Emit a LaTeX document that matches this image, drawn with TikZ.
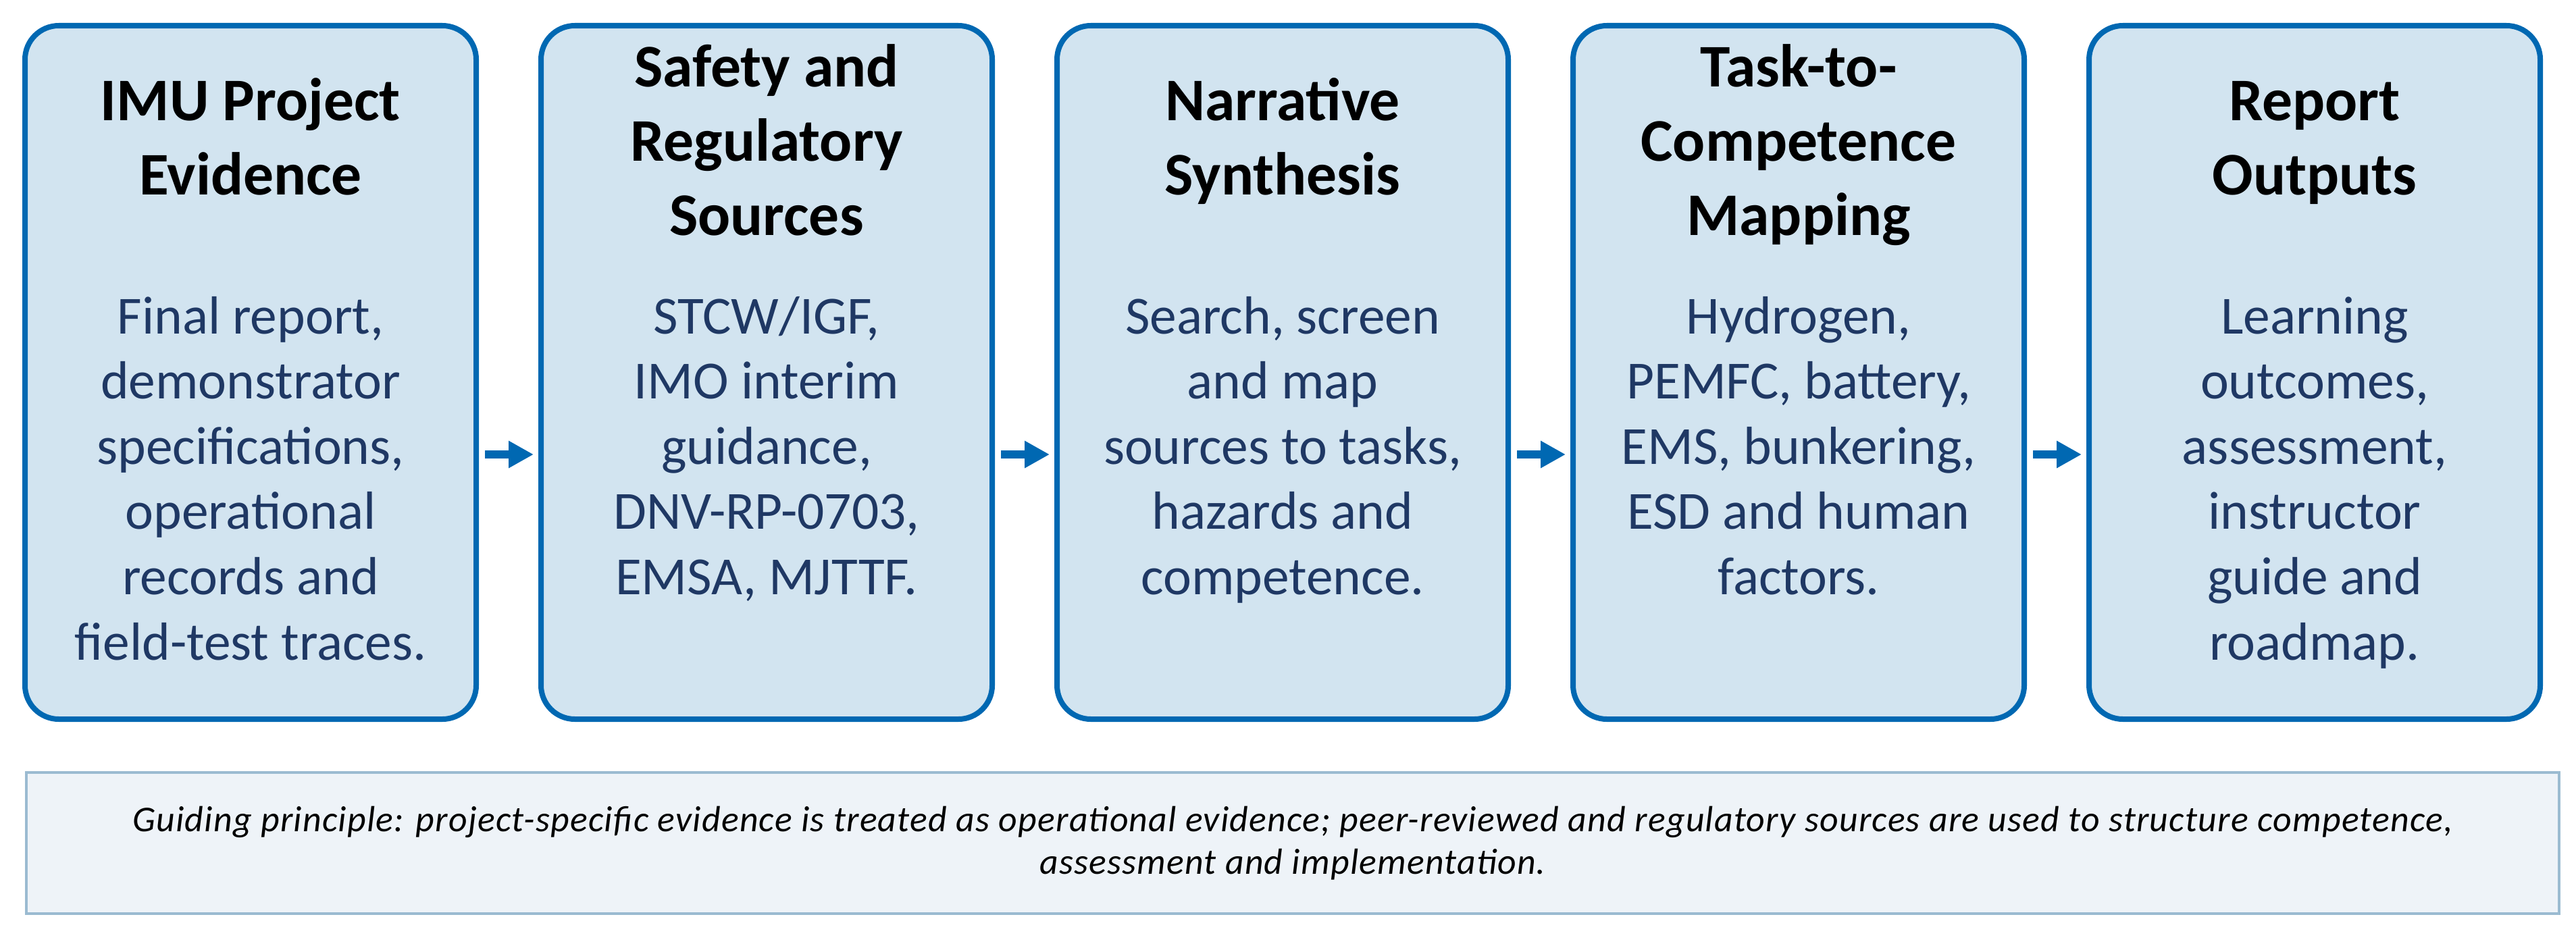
\documentclass[tikz,border=0pt]{standalone}
\usepackage{fontspec}
\setmainfont{Carlito}
\newfontfamily\notefont[LetterSpace=2.3]{Carlito}
\usetikzlibrary{arrows.meta}
\definecolor{stageblue}{HTML}{0068B2}
\definecolor{stagefill}{HTML}{D2E4F0}
\definecolor{detailtext}{HTML}{1F3864}
\definecolor{noteline}{HTML}{9BBBD1}
\definecolor{notefill}{HTML}{EEF3F8}
\tikzstyle{stage} = [rectangle, rounded corners=0.5cm, minimum width=6.68cm, minimum height=10.27cm, draw=stageblue, line width=0.08cm, fill=stagefill]
\tikzstyle{heading} = [text width=6.4cm, align=flush center, anchor=base, inner sep=0pt, font=\fontsize{25.5}{31.3}\selectfont\bfseries]
\tikzstyle{detail} = [text width=6.4cm, align=flush center, anchor=base, inner sep=0pt, text=detailtext, font=\fontsize{22.6}{27.5}\selectfont]
\tikzstyle{note} = [rectangle, minimum width=37.5cm, minimum height=2.09cm, draw=noteline, line width=0.04cm, fill=notefill]
\tikzstyle{arrow} = [line width=0.12cm, draw=stageblue, -{Triangle[length=0.37cm, width=0.38cm]}, shorten <=0.09cm, shorten >=0.07cm]

\begin{document}
\begin{tikzpicture}[node distance=7.64cm]
	\useasboundingbox (0,0) rectangle (38.14,-13.97);

	\node (b1) [stage] at (3.71,-5.515) {};
	\node (b2) [stage, right of=b1] {};
	\node (b3) [stage, right of=b2] {};
	\node (b4) [stage, right of=b3] {};
	\node (b5) [stage, right of=b4] {};

	\node (t1) [heading] at ([yshift=-1.44cm]b1.north) {IMU Project\\Evidence};
	\node (t2) [heading] at ([yshift=-0.94cm]b2.north) {Safety and\\Regulatory\\Sources};
	\node (t3) [heading] at ([yshift=-1.44cm]b3.north) {Narrative\\Synthesis};
	\node (t4) [heading] at ([yshift=-0.94cm]b4.north) {Task-to-\\Competence\\Mapping};
	\node (t5) [heading] at ([yshift=-1.44cm]b5.north) {Report\\Outputs};

	\node (d1) [detail] at ([yshift=-4.6cm]b1.north) {Final report,\\demonstrator\\specifications,\\operational\\records and\\field-test traces.};
	\node (d2) [detail] at ([yshift=-4.6cm]b2.north) {STCW/IGF,\\IMO interim\\guidance,\\DNV-RP-0703,\\EMSA, MJTTF.};
	\node (d3) [detail] at ([yshift=-4.6cm]b3.north) {Search, screen\\and map\\sources to tasks,\\hazards and\\competence.};
	\node (d4) [detail] at ([yshift=-4.6cm]b4.north) {Hydrogen,\\PEMFC, battery,\\EMS, bunkering,\\ESD and human\\factors.};
	\node (d5) [detail] at ([yshift=-4.6cm]b5.north) {Learning\\outcomes,\\assessment,\\instructor\\guide and\\roadmap.};

	\draw [arrow] ([yshift=-1.215cm]b1.east) -- ([yshift=-1.215cm]b2.west);
	\draw [arrow] ([yshift=-1.215cm]b2.east) -- ([yshift=-1.215cm]b3.west);
	\draw [arrow] ([yshift=-1.215cm]b3.east) -- ([yshift=-1.215cm]b4.west);
	\draw [arrow] ([yshift=-1.215cm]b4.east) -- ([yshift=-1.215cm]b5.west);

	% guiding principle
	\node (guide) [note] at (19.14,-12.485) {};
	\node (guidetext) [align=center, font=\notefont\fontsize{15.3}{17.9}\selectfont\itshape] at (guide.center) {Guiding principle: project-specific evidence is treated as operational evidence; peer-reviewed and regulatory sources are used to structure competence,\\assessment and implementation.};

\end{tikzpicture}
\end{document}
